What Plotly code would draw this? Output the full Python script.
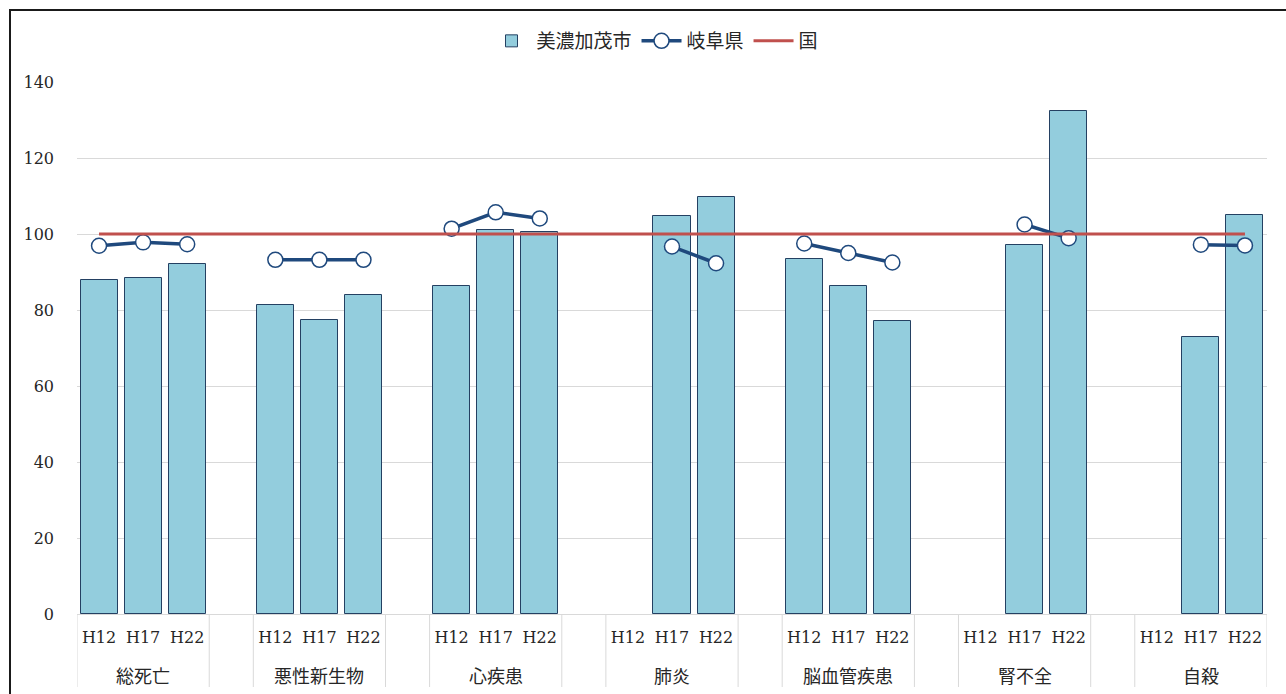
import plotly.graph_objects as go

# 死因別標準化死亡比（SMR）
groups = ["総死亡", "悪性新生物", "心疾患", "肺炎", "脳血管疾患", "腎不全", "自殺"]
years = ["H12", "H17", "H22"]

# 美濃加茂市（グループ順 × 年次順）
minokamo = [87.9, 88.4, 92.1,
            81.4, 77.3, 83.9,
            86.4, 101.0, 100.4,
            None, 104.8, 109.7,
            93.3, 86.2, 77.2,
            None, 97.0, 132.5,
            None, 72.8, 105.1]

# 岐阜県
gifu = [96.9, 97.8, 97.3,
        93.2, 93.2, 93.2,
        101.4, 105.7, 104.1,
        None, 96.7, 92.3,
        97.5, 95.0, 92.5,
        None, 102.5, 98.9,
        None, 97.2, 97.0]

# 国（基準値）
national = [100, 100, 100,
            100, 100, 100,
            100, 100, 100,
            100, 100, 100,
            100, 100, 100,
            100, 100, 100,
            100, 100, 100]

# 各グループの後ろに空きスロットを1つ挟んで配置
SLOTS_PER_GROUP = len(years) + 1
n_groups = len(groups)

bar_x, bar_y = [], []
gifu_x, gifu_y = [], []
nat_x, nat_y = [], []
tick_vals, tick_text = [], []
for g in range(n_groups):
    for k, yr in enumerate(years):
        i = g * len(years) + k
        xpos = g * SLOTS_PER_GROUP + k
        bar_x.append(xpos)
        bar_y.append(minokamo[i])
        gifu_x.append(xpos)
        gifu_y.append(gifu[i])
        nat_x.append(xpos)
        nat_y.append(national[i])
        tick_vals.append(xpos)
        tick_text.append(yr)
    # 県の折れ線はグループ間で切る
    gifu_x.append(g * SLOTS_PER_GROUP + len(years))
    gifu_y.append(None)

last_slot = (n_groups - 1) * SLOTS_PER_GROUP + len(years) - 1

FONT = "DejaVu Serif, Noto Sans CJK JP, serif"
JP_FONT = "Noto Sans CJK JP, sans-serif"
TEXT = "#262626"
GRID = "#D9D9D9"

fig = go.Figure()
fig.add_trace(go.Bar(
    x=bar_x, y=bar_y, name="美濃加茂市", width=0.84,
    marker=dict(color="#93CDDD", line=dict(color="#244062", width=1)),
))
fig.add_trace(go.Scatter(
    x=gifu_x, y=gifu_y, name="岐阜県", mode="lines+markers",
    line=dict(color="#1F497D", width=3.5),
    marker=dict(symbol="circle", size=15, color="white",
                line=dict(color="#1F497D", width=1.5)),
    connectgaps=False,
))
fig.add_trace(go.Scatter(
    x=nat_x, y=nat_y, name="国", mode="lines",
    line=dict(color="#C0504D", width=3),
))

# 図の配置（ピクセル基準）
W, H = 1286, 694
L, R, T, B = 77, 19, 82, 80
pw, ph = W - L - R, H - T - B


def px_x(p):
    return (p - L) / pw


def px_y(p):
    return (H - B - p) / ph


shapes = []
# グループ・空きスロットの区切り線
edges = []
for g in range(n_groups):
    left = g * SLOTS_PER_GROUP - 0.5
    right = g * SLOTS_PER_GROUP + len(years) - 0.5
    edges += [left, right]
for e in edges:
    shapes.append(dict(type="line", xref="x", yref="paper",
                       x0=e, x1=e, y0=0, y1=px_y(687),
                       line=dict(color=GRID, width=1)))
# 外枠
shapes.append(dict(type="rect", xref="paper", yref="paper",
                   x0=px_x(10), x1=px_x(1300), y0=px_y(710), y1=px_y(10),
                   line=dict(color="#1a1a1a", width=2), fillcolor="rgba(0,0,0,0)"))

annotations = []
for g, name in enumerate(groups):
    annotations.append(dict(
        x=g * SLOTS_PER_GROUP + (len(years) - 1) / 2, xref="x",
        y=px_y(675), yref="paper", yanchor="middle",
        text=name, showarrow=False,
        font=dict(family=JP_FONT, size=18, color=TEXT),
    ))

fig.update_layout(
    width=W, height=H,
    margin=dict(l=L, r=R, t=T, b=B, pad=0),
    paper_bgcolor="white", plot_bgcolor="white",
    font=dict(family=FONT, size=16, color=TEXT),
    bargap=0,
    showlegend=True,
    legend=dict(orientation="h", x=px_x(655), xanchor="center",
                y=px_y(41), yanchor="middle",
                font=dict(family=JP_FONT, size=19, color=TEXT),
                itemwidth=40, tracegroupgap=0),
    shapes=shapes,
    annotations=annotations,
    xaxis=dict(
        range=[-0.5, last_slot + 0.5],
        tickmode="array", tickvals=tick_vals, ticktext=tick_text,
        showgrid=False, zeroline=False,
        showline=True, linecolor=GRID, linewidth=1,
        ticks="", ticklabelstandoff=9,
        tickfont=dict(family=FONT, size=16, color=TEXT),
    ),
    yaxis=dict(
        range=[0, 140], dtick=20, tick0=0,
        showgrid=True, gridcolor=GRID, gridwidth=1,
        zeroline=False, showline=False,
        ticks="", ticklabelstandoff=22,
        tickfont=dict(family=FONT, size=16, color=TEXT),
    ),
)

fig.write_html("out.html")
